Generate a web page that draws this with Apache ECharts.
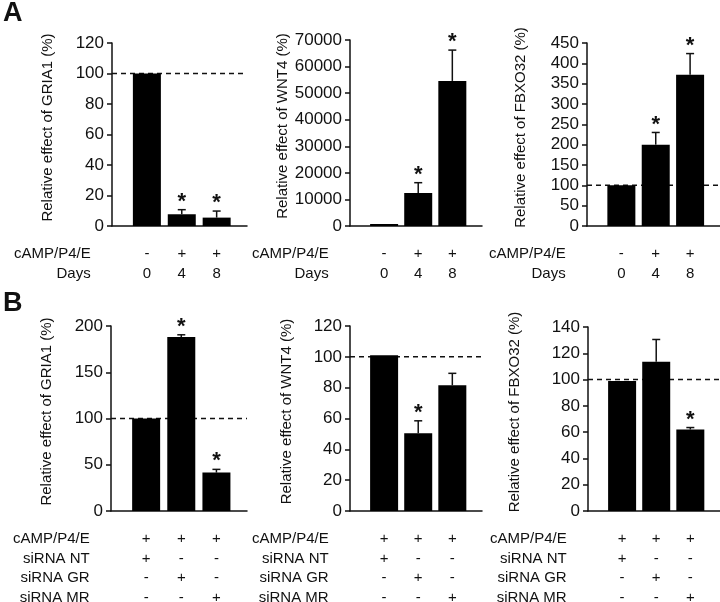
<!DOCTYPE html>
<html>
<head>
<meta charset="utf-8">
<script src="https://cdn.jsdelivr.net/npm/echarts@6/dist/echarts.min.js"></script>
<style>
html,body{margin:0;padding:0;background:#fff;}
#c{width:720px;height:602px;}
</style>
</head>
<body>
<div id="c"></div>
<script>
// ---- data ----
const rowNamesA = ['cAMP/P4/E', 'Days'];
const campA = ['-', '+', '+'];
const daysA = ['0', '4', '8'];

const rowNamesB = ['cAMP/P4/E', 'siRNA NT', 'siRNA GR', 'siRNA MR'];
const campB = ['+', '+', '+'];
const siNTB = ['+', '-', '-'];
const siGRB = ['-', '+', '-'];
const siMRB = ['-', '-', '+'];

const gria1A = [100, 7.7, 5.5];
const gria1AErr = [0, 3, 4.3];
const gria1ASig = [0, 1, 1];

const wnt4A = [100, 12400, 54600];
const wnt4AErr = [0, 3900, 11600];
const wnt4ASig = [0, 1, 1];

const fbxo32A = [100, 200, 372];
const fbxo32AErr = [0, 30, 52];
const fbxo32ASig = [0, 1, 1];

const gria1B = [100, 188, 41.5];
const gria1BErr = [0, 2.5, 3.5];
const gria1BSig = [0, 1, 1];

const wnt4B = [101, 50.5, 81.5];
const wnt4BErr = [0, 8, 7.8];
const wnt4BSig = [0, 1, 0];

const fbxo32B = [99, 113.5, 62];
const fbxo32BErr = [0, 17, 1.5];
const fbxo32BSig = [0, 0, 1];

const yTitles = ['Relative effect of GRIA1 (%)', 'Relative effect of WNT4 (%)', 'Relative effect of FBXO32 (%)',
                 'Relative effect of GRIA1 (%)', 'Relative effect of WNT4 (%)', 'Relative effect of FBXO32 (%)'];
const yMax = [120, 70000, 450, 200, 120, 140];
const yStep = [20, 10000, 50, 50, 20, 20];
const refLine = [100, null, 100, 100, 100, 100];

// ---- layout (styles only) ----
const X_MIN = -1, X_MAX = 2.87;
const layout = [
  {left: 112, top: 43, width: 135, height: 183, nameGap: 57, rowGap: 10, rowMargin: 18.5},
  {left: 350, top: 40, width: 132, height: 186, nameGap: 60, rowGap: 11, rowMargin: 18.5},
  {left: 587, top: 43, width: 133, height: 183, nameGap: 59, rowGap: 10, rowMargin: 18.5},
  {left: 111, top: 326, width: 136, height: 185, nameGap: 57, rowGap: 9, rowMargin: 18.5},
  {left: 350, top: 326, width: 132, height: 185, nameGap: 56, rowGap: 10, rowMargin: 18.5},
  {left: 588, top: 327, width: 132, height: 184, nameGap: 66, rowGap: 12, rowMargin: 18.5}
];

const panels = [
  {vals: gria1A, err: gria1AErr, sig: gria1ASig, rows: [campA, daysA], rowNames: rowNamesA},
  {vals: wnt4A, err: wnt4AErr, sig: wnt4ASig, rows: [campA, daysA], rowNames: rowNamesA},
  {vals: fbxo32A, err: fbxo32AErr, sig: fbxo32ASig, rows: [campA, daysA], rowNames: rowNamesA},
  {vals: gria1B, err: gria1BErr, sig: gria1BSig, rows: [campB, siNTB, siGRB, siMRB], rowNames: rowNamesB},
  {vals: wnt4B, err: wnt4BErr, sig: wnt4BSig, rows: [campB, siNTB, siGRB, siMRB], rowNames: rowNamesB},
  {vals: fbxo32B, err: fbxo32BErr, sig: fbxo32BSig, rows: [campB, siNTB, siGRB, siMRB], rowNames: rowNamesB}
];

const FONT = '"Liberation Sans", Arial, sans-serif';
const INK = '#111';

const grid = [], xAxis = [], yAxis = [], series = [];
panels.forEach((p, i) => {
  const L = layout[i];
  grid.push({left: L.left, top: L.top, width: L.width, height: L.height,
             containLabel: false, outerBoundsMode: 'none'});
  const idx = p.vals.map((_, k) => k);
  xAxis.push({
    type: 'value', gridIndex: i, min: X_MIN, max: X_MAX,
    splitLine: {show: false}, minorSplitLine: {show: false},
    axisTick: {show: false},
    axisLine: {show: true, onZero: false, lineStyle: {color: INK, width: 1.5}},
    axisLabel: {
      customValues: idx,
      margin: L.rowMargin, fontSize: 15, fontFamily: FONT, color: INK, lineHeight: 19.5,
      formatter: v => p.rows.map(r => r[Math.round(v)]).join('\n')
    },
    name: p.rowNames.join('\n'),
    nameLocation: 'start', nameGap: L.rowGap,
    nameTextStyle: {fontSize: 15, fontFamily: FONT, color: INK, align: 'right', verticalAlign: 'top',
                    lineHeight: 19.5, padding: [L.rowMargin, 0, 0, 0]}
  });
  yAxis.push({
    type: 'value', gridIndex: i, min: 0, max: yMax[i], interval: yStep[i],
    splitLine: {show: false}, minorSplitLine: {show: false},
    axisLine: {show: true, onZero: false, lineStyle: {color: INK, width: 1.5}},
    axisTick: {show: true, inside: false, length: 5, lineStyle: {color: INK, width: 1.5}},
    axisLabel: {fontSize: 17, fontFamily: FONT, color: INK, margin: 8, formatter: v => String(v)},
    name: yTitles[i], nameLocation: 'middle', nameRotate: 90, nameGap: L.nameGap,
    nameTextStyle: {fontSize: 15, fontFamily: FONT, color: INK, padding: [0, 0, 0, 14]}
  });
  // dashed reference line (drawn through the axes' own scales)
  if (refLine[i] != null) {
    series.push({
      type: 'custom', xAxisIndex: i, yAxisIndex: i, silent: true, z: 1,
      data: [[X_MIN, refLine[i]]],
      encode: {x: 0, y: 1},
      renderItem: (params, api) => {
        const a = api.coord([X_MIN, api.value(1)]);
        const b = api.coord([X_MAX, api.value(1)]);
        return {type: 'line', shape: {x1: a[0], y1: a[1], x2: b[0], y2: b[1]},
                style: {stroke: INK, lineWidth: 1.5, lineDash: [5, 4]}};
      }
    });
  }
  series.push({
    type: 'bar', xAxisIndex: i, yAxisIndex: i, barWidth: 28, barMinHeight: 2, z: 2,
    itemStyle: {color: '#000'},
    data: p.vals.map((v, k) => [k, v]),
    silent: true
  });
  const errData = [];
  p.vals.forEach((v, k) => { if (p.err[k] > 0 || p.sig[k]) errData.push([k, v, p.err[k], p.sig[k]]); });
  series.push({
    type: 'custom', xAxisIndex: i, yAxisIndex: i, silent: true, z: 3,
    data: errData,
    encode: {x: 0, y: 1},
    renderItem: (params, api) => {
      const x = api.value(0), v = api.value(1), e = api.value(2), s = api.value(3);
      const ch = [];
      const top = api.coord([x, v]);
      const et = api.coord([x, v + e]);
      if (e > 0) {
        ch.push({type: 'line', shape: {x1: top[0], y1: top[1], x2: et[0], y2: et[1]},
                 style: {stroke: INK, lineWidth: 1.5}});
        ch.push({type: 'line', shape: {x1: et[0] - 4, y1: et[1], x2: et[0] + 4, y2: et[1]},
                 style: {stroke: INK, lineWidth: 1.5}});
      }
      if (s) {
        ch.push({type: 'text', x: et[0], y: et[1] + 3,
                 style: {text: '*', font: 'bold 22px ' + FONT, fill: INK, align: 'center', verticalAlign: 'bottom'}});
      }
      return {type: 'group', children: ch};
    }
  });
});

const chart = echarts.init(document.getElementById('c'), null, {renderer: 'canvas'});
chart.setOption({
  backgroundColor: '#fff',
  animation: false,
  grid, xAxis, yAxis, series,
  graphic: [
    {type: 'text', left: 3, top: 0, style: {text: 'A', font: 'bold 27px ' + FONT, fill: INK}},
    {type: 'text', left: 3, top: 290, style: {text: 'B', font: 'bold 27px ' + FONT, fill: INK}}
  ]
});
</script>
</body>
</html>
